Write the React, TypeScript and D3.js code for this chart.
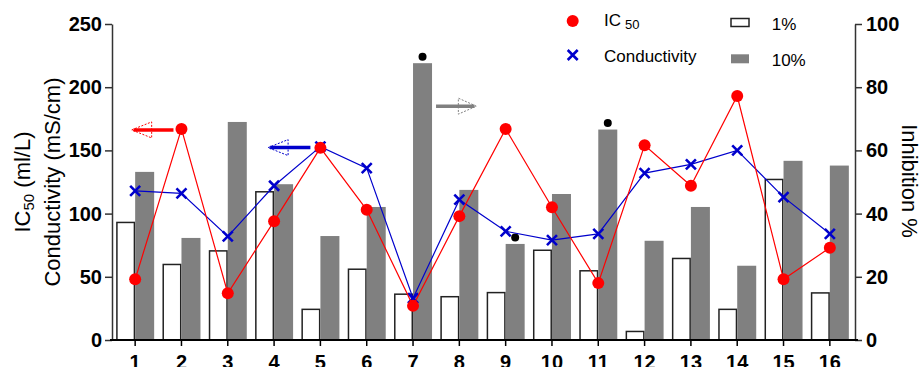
import { useEffect, useRef } from "react";
import { select, scaleLinear, scaleBand, line, axisLeft, axisRight, axisBottom } from "d3";

const samples = ["1", "2", "3", "4", "5", "6", "7", "8", "9", "10", "11", "12", "13", "14", "15", "16"];
const ic50 = [48, 167, 37, 94, 152, 103, 27, 98, 167, 105, 45, 154, 122, 193, 48, 73];
const conductivity = [118, 116, 82, 122, 153, 136, 33, 111, 86, 79, 84, 132, 139, 150, 113, 84];
const inhibition1 = [37.2, 23.9, 28.2, 46.9, 9.7, 22.4, 14.5, 13.7, 15.0, 28.4, 21.9, 2.7, 25.8, 9.7, 50.8, 14.9];
const inhibition10 = [53.2, 32.3, 69.0, 49.3, 32.9, 42.1, 87.6, 47.5, 30.4, 46.2, 66.6, 31.4, 42.1, 23.5, 56.7, 55.2];
const marked = ["7", "9", "11"];
const leftTicks = [0, 50, 100, 150, 200, 250];
const rightTicks = [0, 20, 40, 60, 80, 100];
const doses = ["1%", "10%"];

const FONT = "'Liberation Sans', Arial, sans-serif";
const RED = "#ff0000";
const BLUE = "#0000cc";
const GRAY = "#808080";

function App() {
  const ref = useRef<SVGSVGElement>(null);

  useEffect(() => {
    const svg = select(ref.current);
    svg.selectAll("*").remove();

    const margin = { top: 24, left: 112, right: 855, bottom: 340 };

    const x = scaleBand().domain(samples).range([margin.left, 853]).padding(0);
    const xSub = scaleBand().domain(doses).range([-19, 19]).padding(0);
    const yL = scaleLinear().domain([0, 250]).range([margin.bottom, margin.top]);
    const yR = scaleLinear().domain([0, 100]).range([margin.bottom, margin.top]);
    const cx = (s: string) => (x(s) as number) + x.bandwidth() / 2;

    // bars
    const bars = svg.append("g");
    bars
      .selectAll("rect.b1")
      .data(samples)
      .enter()
      .append("rect")
      .attr("x", (d) => cx(d) + (xSub("1%") as number) + 0.75)
      .attr("y", (d, i) => yR(inhibition1[i]))
      .attr("width", xSub.bandwidth() - 1.5)
      .attr("height", (d, i) => yR(0) - yR(inhibition1[i]))
      .attr("fill", "#fff")
      .attr("stroke", "#222")
      .attr("stroke-width", 1.5);
    bars
      .selectAll("rect.b10")
      .data(samples)
      .enter()
      .append("rect")
      .attr("x", (d) => cx(d) + (xSub("10%") as number))
      .attr("y", (d, i) => yR(inhibition10[i]))
      .attr("width", xSub.bandwidth())
      .attr("height", (d, i) => yR(0) - yR(inhibition10[i]))
      .attr("fill", GRAY);

    // significance dots
    bars
      .selectAll("circle")
      .data(marked)
      .enter()
      .append("circle")
      .attr("cx", (d) => cx(d) + (xSub("10%") as number) + xSub.bandwidth() / 2)
      .attr("cy", (d) => yR(inhibition10[samples.indexOf(d)]) - 6.5)
      .attr("r", 4)
      .attr("fill", "#000");

    // axes
    const axisStyle = (g: any) => {
      g.attr("font-family", FONT).attr("font-size", 20).attr("font-weight", "bold");
      g.selectAll("text").attr("fill", "#000");
    };
    svg
      .append("g")
      .attr("transform", `translate(${margin.left},0)`)
      .call(axisLeft(yL).tickValues(leftTicks).tickSize(7).tickPadding(3).tickSizeOuter(0))
      .call(axisStyle)
      .call((g: any) => g.selectAll("path,line").attr("stroke", "#333").attr("stroke-width", 1.5));
    svg
      .append("g")
      .attr("transform", `translate(${margin.right},0)`)
      .call(axisRight(yR).tickValues(rightTicks).tickSize(7).tickPadding(4).tickSizeOuter(0))
      .call(axisStyle)
      .call((g: any) => g.selectAll("path,line").attr("stroke", "#333").attr("stroke-width", 1.5));
    svg
      .append("g")
      .attr("transform", `translate(0,${margin.bottom})`)
      .call(axisBottom(x).tickSize(6).tickPadding(9).tickSizeOuter(0))
      .call(axisStyle)
      .call((g: any) => {
        g.select(".domain").remove();
        g.selectAll("line").attr("stroke", "#000").attr("stroke-width", 1.5);
      });
    svg
      .append("line")
      .attr("x1", margin.left - 2)
      .attr("x2", margin.right + 3)
      .attr("y1", margin.bottom)
      .attr("y2", margin.bottom)
      .attr("stroke", "#000")
      .attr("stroke-width", 2.2);

    // lines
    const lineL = line<number>()
      .x((d, i) => cx(samples[i]))
      .y((d) => yL(d));

    svg
      .append("path")
      .attr("d", lineL(conductivity))
      .attr("fill", "none")
      .attr("stroke", BLUE)
      .attr("stroke-width", 1.2);
    const cross = (g: any, px: number, py: number, s: number) => {
      g.append("path")
        .attr("d", `M${px - s},${py - s}L${px + s},${py + s}M${px - s},${py + s}L${px + s},${py - s}`)
        .attr("stroke", BLUE)
        .attr("stroke-width", 2.6);
    };
    const crosses = svg.append("g");
    conductivity.forEach((v, i) => cross(crosses, cx(samples[i]), yL(v), 5));

    svg
      .append("path")
      .attr("d", lineL(ic50))
      .attr("fill", "none")
      .attr("stroke", RED)
      .attr("stroke-width", 1.2);
    svg
      .append("g")
      .selectAll("circle")
      .data(ic50)
      .enter()
      .append("circle")
      .attr("cx", (d, i) => cx(samples[i]))
      .attr("cy", (d) => yL(d))
      .attr("r", 6)
      .attr("fill", RED);

    // axis arrows
    const arrow = (tip: number, base: number, end: number, y: number, color: string) => {
      const g = svg.append("g");
      g.append("line")
        .attr("x1", tip + (base > tip ? 2 : -2))
        .attr("x2", end)
        .attr("y1", y)
        .attr("y2", y)
        .attr("stroke", color)
        .attr("stroke-width", 3.5);
      g.append("path")
        .attr("d", `M${tip},${y}L${base},${y - 8}L${base},${y + 8}Z`)
        .attr("fill", "none")
        .attr("stroke", color)
        .attr("stroke-width", 1)
        .attr("stroke-dasharray", "2,1.5");
    };
    arrow(cx("1") - 3.5, cx("1") + 16.5, cx("2") - 8, yL(ic50[1]) + 1, RED);
    arrow(cx("4") - 6, cx("4") + 14, cx("5") - 10, yL(conductivity[4]) + 1, BLUE);
    arrow(cx("8") + 17, cx("8") - 1, cx("7") + 23, yR(74), GRAY);

    // axis titles
    const tl = svg
      .append("text")
      .attr("transform", "translate(30,182) rotate(-90)")
      .attr("text-anchor", "middle")
      .attr("font-family", FONT)
      .attr("font-size", 22)
      .attr("fill", "#000");
    tl.append("tspan").text("IC");
    tl.append("tspan").attr("font-size", 15).attr("dy", 4).text("50");
    tl.append("tspan").attr("dy", -4).text(" (ml/L)");
    svg
      .append("text")
      .attr("transform", "translate(59.5,182) rotate(-90)")
      .attr("text-anchor", "middle")
      .attr("font-family", FONT)
      .attr("font-size", 22)
      .attr("fill", "#000")
      .text("Conductivity (mS/cm)");
    svg
      .append("text")
      .attr("transform", "translate(902,181) rotate(90)")
      .attr("text-anchor", "middle")
      .attr("font-family", FONT)
      .attr("font-size", 22)
      .attr("fill", "#000")
      .text("Inhibition %");

    // legend
    const lg = svg.append("g").attr("font-family", FONT).attr("font-size", 17).attr("fill", "#000");
    lg.append("circle").attr("cx", 572.7).attr("cy", 21).attr("r", 6).attr("fill", RED);
    cross(lg, 572.7, 55, 5);
    const icText = lg.append("text").attr("x", 604).attr("y", 25.7);
    icText.append("tspan").text("IC");
    icText.append("tspan").attr("font-size", 13).attr("dx", 4).attr("dy", 3.6).text("50");
    lg.append("text").attr("x", 604).attr("y", 61.7).text("Conductivity");
    lg.append("rect").attr("x", 731).attr("y", 18.5).attr("width", 18).attr("height", 8).attr("fill", "#fff").attr("stroke", "#222").attr("stroke-width", 1.5);
    lg.append("rect").attr("x", 731).attr("y", 54.3).attr("width", 18).attr("height", 9).attr("fill", GRAY);
    lg.append("text").attr("x", 771.7).attr("y", 30).text(doses[0]);
    lg.append("text").attr("x", 771.7).attr("y", 66).text(doses[1]);
  }, []);

  return (
    <svg
      ref={ref}
      width="921"
      height="367"
      style={{ position: "absolute", left: 0, top: 0, background: "#fff" }}
    ></svg>
  );
}

export default App;
